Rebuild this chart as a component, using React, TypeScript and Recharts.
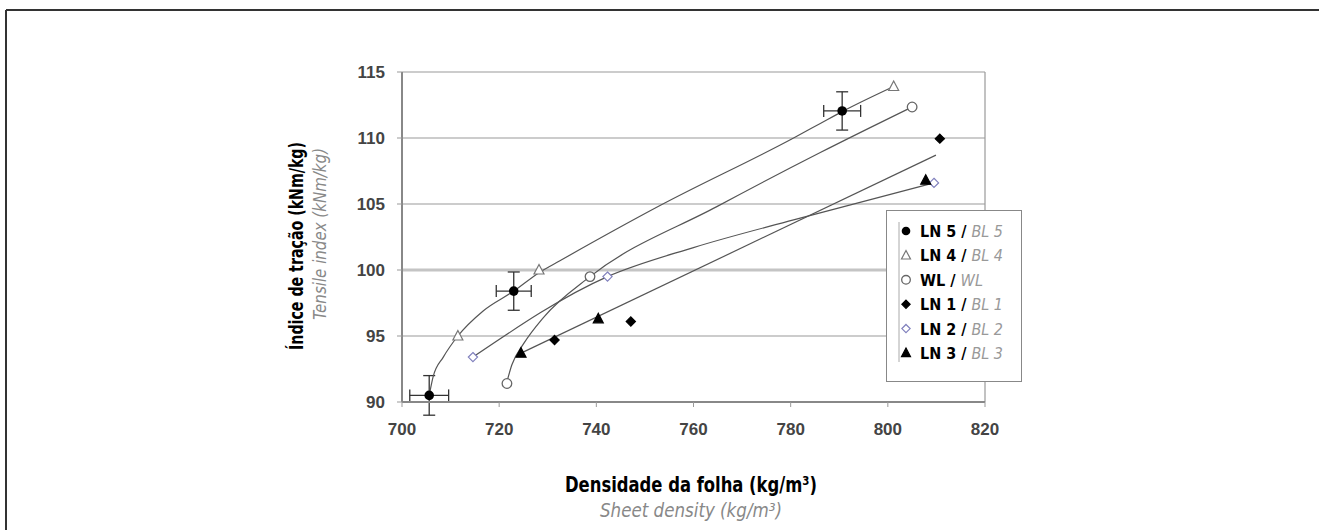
import { ErrorBar, ReferenceLine, Scatter, ScatterChart, XAxis, YAxis, CartesianGrid } from "recharts";

// measured points (sheet density kg/m3, tensile index kNm/kg)
const ln5 = [
    { x: 705.6, y: 90.5, ex: 4, ey: 1.5 },
    { x: 723, y: 98.4, ex: 3.6, ey: 1.45 },
    { x: 790.6, y: 112.05, ex: 3.8, ey: 1.45 },
];
const ln4 = [
    { x: 711.5, y: 95 },
    { x: 728.2, y: 100 },
    { x: 801.2, y: 113.9 },
];
const wl = [
    { x: 721.6, y: 91.4 },
    { x: 738.7, y: 99.5 },
    { x: 805, y: 112.35 },
];
const ln1 = [
    { x: 731.4, y: 94.7 },
    { x: 747.1, y: 96.1 },
    { x: 810.7, y: 109.95 },
];
const ln2 = [
    { x: 714.6, y: 93.4 },
    { x: 742.3, y: 99.5 },
    { x: 809.5, y: 106.6 },
];
const ln3 = [
    { x: 724.5, y: 93.7 },
    { x: 740.4, y: 96.3 },
    { x: 807.8, y: 106.8 },
];

// trend curves
const trendLN5 = [
    { x: 705.6, y: 90.5 },
    { x: 706.4, y: 91.9 },
    { x: 708.5, y: 93.4 },
    { x: 711.5, y: 95 },
    { x: 716.7, y: 96.9 },
    { x: 723, y: 98.4 },
    { x: 728.2, y: 99.8 },
    { x: 732.5, y: 100.7 },
    { x: 753.2, y: 104.9 },
    { x: 780.6, y: 110 },
    { x: 786.1, y: 111.1 },
    { x: 790.6, y: 112 },
    { x: 801.2, y: 113.9 },
];
const trendWL = [
    { x: 721.5, y: 91.4 },
    { x: 722.6, y: 92.8 },
    { x: 725, y: 94.4 },
    { x: 729.1, y: 96.4 },
    { x: 738.7, y: 99.5 },
    { x: 764.8, y: 104.8 },
    { x: 786.1, y: 108.9 },
    { x: 805, y: 112.35 },
];
const trendLN2 = [
    { x: 714.6, y: 93.4 },
    { x: 742.3, y: 99.5 },
    { x: 760, y: 101.7 },
    { x: 780.6, y: 103.8 },
    { x: 809.5, y: 106.6 },
];
const trendLN3 = [
    { x: 724.5, y: 93.7 },
    { x: 809.9, y: 108.7 },
];

const xTicks = [700, 720, 740, 760, 780, 800, 820];
const yTicks = [90, 95, 100, 105, 110, 115];

const legendItems = [
    { label: "LN 5", alt: "BL 5", marker: "dot" },
    { label: "LN 4", alt: "BL 4", marker: "triOpen" },
    { label: "WL", alt: "WL", marker: "ring" },
    { label: "LN 1", alt: "BL 1", marker: "diamond" },
    { label: "LN 2", alt: "BL 2", marker: "diamondOpen" },
    { label: "LN 3", alt: "BL 3", marker: "tri" },
];

const narrow = "'Liberation Sans Narrow', 'DejaVu Sans Condensed', 'Liberation Sans', sans-serif";

const Marker = ({ kind, cx, cy, s = 1 }: { kind: string; cx: number; cy: number; s?: number }) => {
    if (kind === "dot") return <circle cx={cx} cy={cy} r={4.8 * s} fill="#000" />;
    if (kind === "ring") return <circle cx={cx} cy={cy} r={4.8 * s} fill="#fff" stroke="#666" strokeWidth={1.3} />;
    if (kind === "diamond" || kind === "diamondOpen") {
        const d = 4.6 * s;
        const open = kind === "diamondOpen";
        return (
            <path
                d={`M${cx},${cy - d}L${cx + d},${cy}L${cx},${cy + d}L${cx - d},${cy}Z`}
                fill={open ? "#fff" : "#000"}
                stroke={open ? "#8080bd" : "#000"}
                strokeWidth={1.2}
            />
        );
    }
    const h = 5 * s;
    const open = kind === "triOpen";
    return (
        <path
            d={`M${cx},${cy - h * 1.1}L${cx + h},${cy + h * 0.8}L${cx - h},${cy + h * 0.8}Z`}
            fill={open ? "#fff" : "#000"}
            stroke={open ? "#777" : "#000"}
            strokeWidth={1.2}
        />
    );
};

const shapeOf = (kind: string) => (p: any) => <Marker kind={kind} cx={p.cx} cy={p.cy} />;
const noShape = () => <g />;
const trendLine = { stroke: "#555", strokeWidth: 1.2 };

const App = () => {
    return (
        <div style={{ position: "absolute", left: 0, top: 0, width: 1319, height: 530, background: "#fff" }}>
            <ScatterChart width={1319} height={530} margin={{ top: 72, right: 334, bottom: 98, left: 342 }}>
                <CartesianGrid vertical={false} stroke="#999" strokeWidth={1.2} />
                <ReferenceLine y={100} stroke="#c4c4c4" strokeWidth={3} />
                <ReferenceLine x={820} stroke="#999" strokeWidth={1.2} />
                <XAxis
                    type="number"
                    dataKey="x"
                    domain={[700, 820]}
                    ticks={xTicks}
                    allowDataOverflow
                    height={30}
                    tickSize={5}
                    tickMargin={16}
                    axisLine={{ stroke: "#888", strokeWidth: 2 }}
                    tickLine={{ stroke: "#999" }}
                    tick={{ fill: "#444", fontSize: 17, fontWeight: "bold", fontFamily: "'Liberation Sans', Arial, sans-serif" }}
                />
                <YAxis
                    type="number"
                    dataKey="y"
                    domain={[90, 115]}
                    ticks={yTicks}
                    allowDataOverflow
                    width={60}
                    tickSize={5}
                    tickMargin={12}
                    axisLine={{ stroke: "#888", strokeWidth: 2 }}
                    tickLine={{ stroke: "#999" }}
                    tick={{ fill: "#444", fontSize: 17, fontWeight: "bold", fontFamily: "'Liberation Sans', Arial, sans-serif" }}
                />
                <Scatter data={trendLN5} line={trendLine} lineJointType="monotoneX" shape={noShape} isAnimationActive={false} />
                <Scatter data={trendWL} line={trendLine} lineJointType="monotoneX" shape={noShape} isAnimationActive={false} />
                <Scatter data={trendLN2} line={trendLine} lineJointType="monotoneX" shape={noShape} isAnimationActive={false} />
                <Scatter data={trendLN3} line={trendLine} lineJointType="linear" shape={noShape} isAnimationActive={false} />
                <Scatter data={ln4} shape={shapeOf("triOpen")} isAnimationActive={false} />
                <Scatter data={wl} shape={shapeOf("ring")} isAnimationActive={false} />
                <Scatter data={ln1} shape={shapeOf("diamond")} isAnimationActive={false} />
                <Scatter data={ln2} shape={shapeOf("diamondOpen")} isAnimationActive={false} />
                <Scatter data={ln3} shape={shapeOf("tri")} isAnimationActive={false} />
                <Scatter data={ln5} shape={shapeOf("dot")} isAnimationActive={false}>
                    <ErrorBar dataKey="ex" direction="x" width={6} stroke="#333" strokeWidth={1.3} isAnimationActive={false} />
                    <ErrorBar dataKey="ey" direction="y" width={6} stroke="#333" strokeWidth={1.3} isAnimationActive={false} />
                </Scatter>
            </ScatterChart>

            <svg width={1319} height={530} style={{ position: "absolute", left: 0, top: 0, pointerEvents: "none" }}>
                {/* frame */}
                <line x1={6} y1={10} x2={1319} y2={10} stroke="#333" strokeWidth={2} />
                <line x1={6} y1={10} x2={6} y2={530} stroke="#333" strokeWidth={2} />

                {/* axis titles */}
                <text x={565} y={492} fontFamily={narrow} fontSize={21} fontWeight="bold" fill="#000" textLength={252} lengthAdjust="spacingAndGlyphs">
                    Densidade da folha (kg/m³)
                </text>
                <text x={600} y={517} fontFamily={narrow} fontSize={19} fontStyle="italic" fill="#888" textLength={182} lengthAdjust="spacingAndGlyphs">
                    Sheet density (kg/m³)
                </text>
                <text transform="translate(303,350) rotate(-90)" fontFamily={narrow} fontSize={20} fontWeight="bold" fill="#000" textLength={208} lengthAdjust="spacingAndGlyphs">
                    Índice de tração (kNm/kg)
                </text>
                <text transform="translate(326,320) rotate(-90)" fontFamily={narrow} fontSize={18} fontStyle="italic" fill="#888" textLength={172} lengthAdjust="spacingAndGlyphs">
                    Tensile index (kNm/kg)
                </text>

                {/* legend */}
                <rect x={886.5} y={210.5} width={135} height={171} fill="#fff" stroke="#888" strokeWidth={1} />
                <line x1={899} y1={222} x2={899} y2={362} stroke="#aaa" strokeWidth={1} />
                {legendItems.map((it, i) => {
                    const cy = 231 + i * 24.4;
                    return (
                        <g key={it.label}>
                            <Marker kind={it.marker} cx={906} cy={cy} s={0.9} />
                            <text
                                x={920}
                                y={cy + 6}
                                fontFamily={narrow}
                                fontSize={16}
                                textLength={it.label === "WL" ? 63 : 83}
                                lengthAdjust="spacingAndGlyphs"
                            >
                                <tspan fontWeight="bold" fill="#000">{it.label} / </tspan>
                                <tspan fontStyle="italic" fill="#999">{it.alt}</tspan>
                            </text>
                        </g>
                    );
                })}
            </svg>
        </div>
    );
};

export default App;
